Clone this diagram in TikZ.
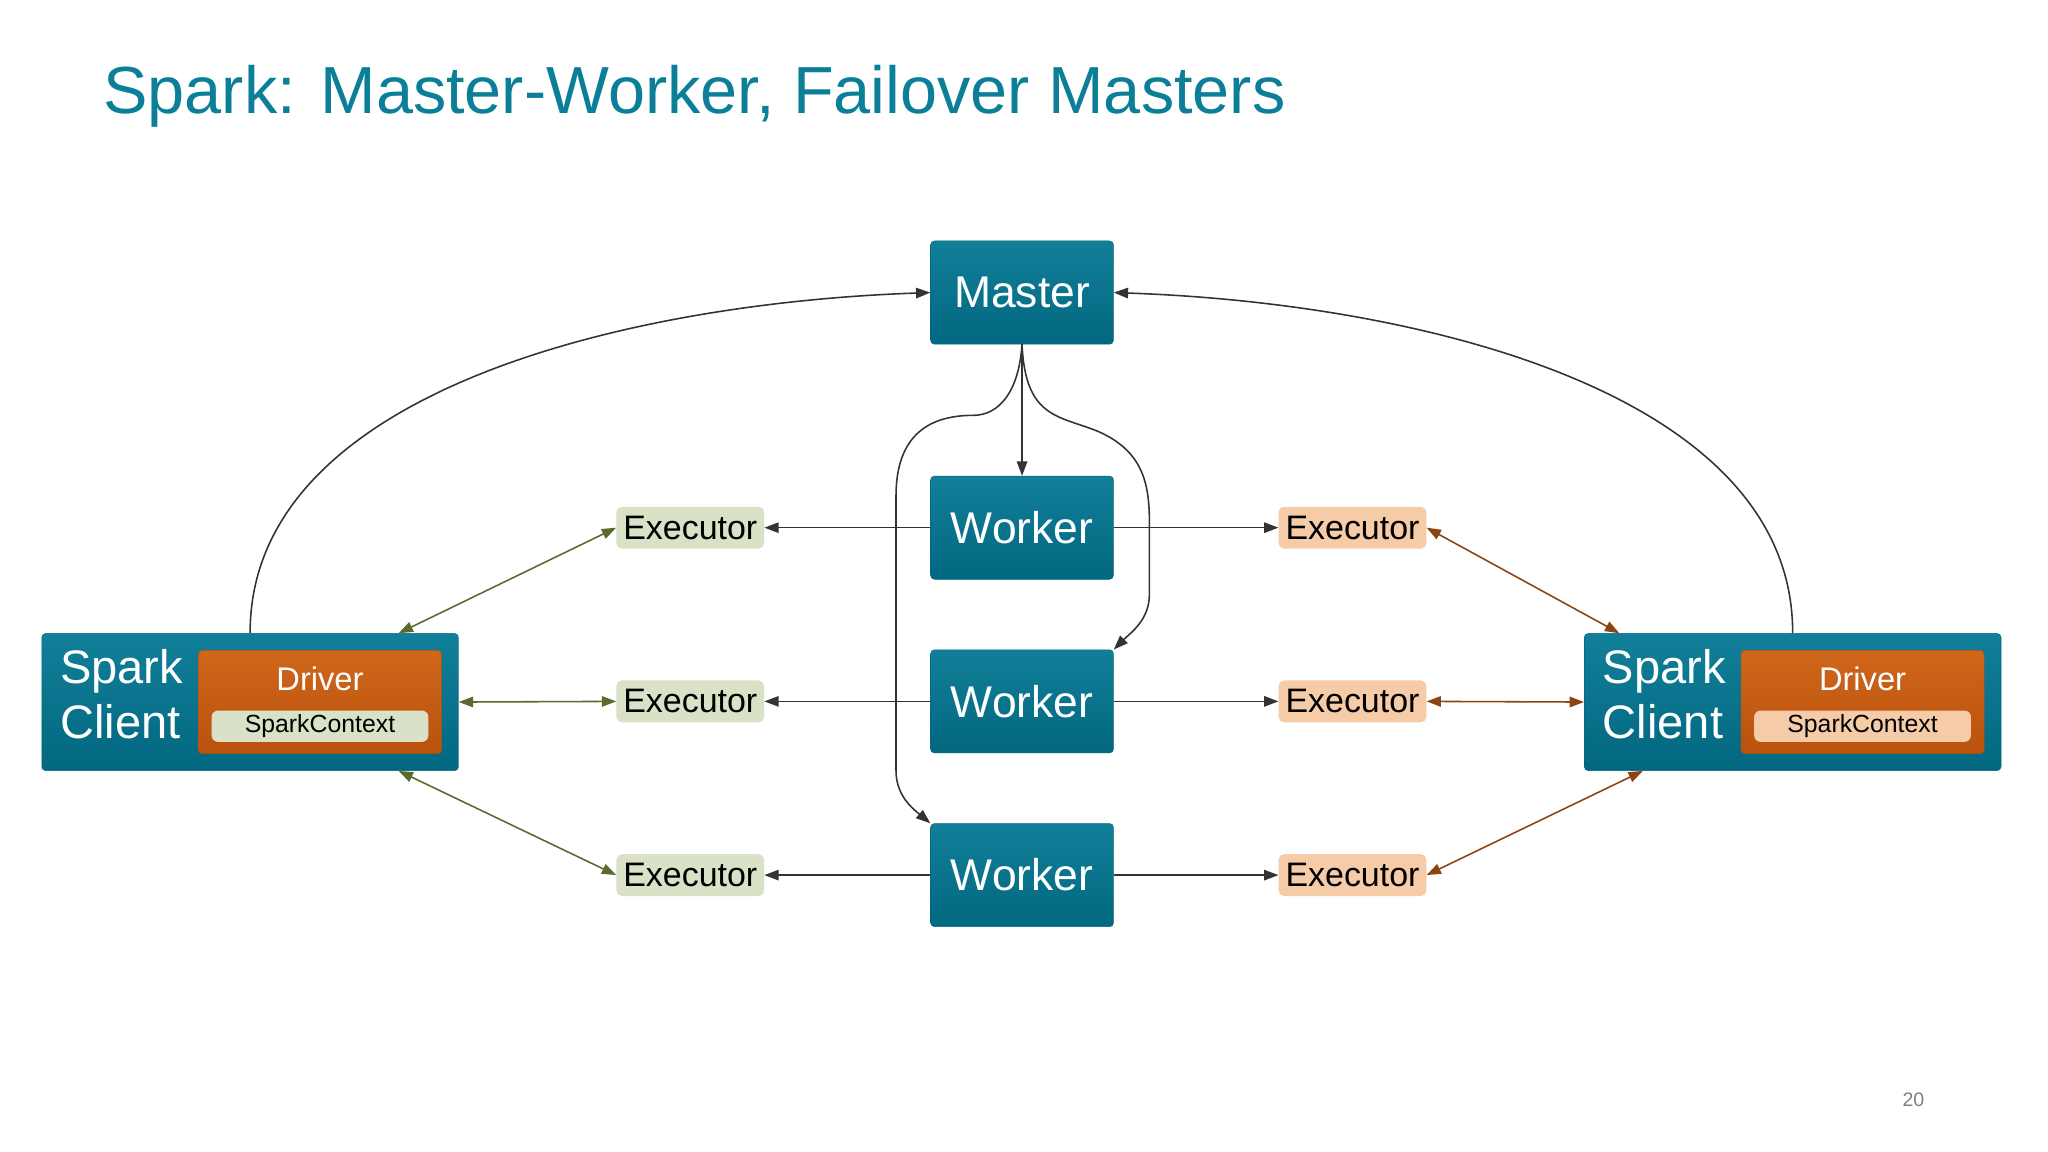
\documentclass[tikz,border=0pt]{standalone}
\usepackage{fontspec}
\setmainfont{Liberation Sans}
\usetikzlibrary{arrows.meta,calc}
\definecolor{teal1}{HTML}{117F99}
\definecolor{teal2}{HTML}{036780}
\definecolor{titlec}{HTML}{0A7F97}
\definecolor{drv1}{HTML}{D0661A}
\definecolor{drv2}{HTML}{B8520E}
\definecolor{lex}{HTML}{D9E1C6}
\definecolor{rex}{HTML}{F6CBA8}
\definecolor{lar}{HTML}{5A6B2E}
\definecolor{rar}{HTML}{8B4513}
\definecolor{gar}{HTML}{333333}
\begin{document}
\begin{tikzpicture}[x=1pt,y=-1pt,
 box/.style={rounded corners=3pt,top color=teal1,bottom color=teal2,draw=teal2,text=white,
   minimum width=140pt,minimum height=79pt,font=\fontsize{34}{36}\selectfont,inner sep=0pt},
 cli/.style={rounded corners=3pt,top color=teal1,bottom color=teal2,draw=teal2,
   minimum width=319pt,minimum height=105pt,inner sep=0pt},
 drv/.style={rounded corners=3pt,top color=drv1,bottom color=drv2,draw=drv2,
   minimum width=186pt,minimum height=79pt,inner sep=0pt},
 pill/.style={rounded corners=5pt,minimum width=166pt,minimum height=24pt,inner sep=0pt,font=\fontsize{19}{20}\selectfont},
 exe/.style={rounded corners=4pt,minimum width=113pt,minimum height=32pt,inner sep=0pt,font=\fontsize{26}{28}\selectfont},
 ga/.style={draw=gar,line width=1.2pt,-{Triangle[length=11pt,width=8pt]}},
 la/.style={draw=lar,line width=1.2pt,{Triangle[length=11pt,width=8pt]}-{Triangle[length=11pt,width=8pt]}},
 ra/.style={draw=rar,line width=1.2pt,{Triangle[length=11pt,width=8pt]}-{Triangle[length=11pt,width=8pt]}}]
\useasboundingbox[fill=white] (0,0) rectangle (1568,882);
\node[anchor=base west,text=titlec,font=\fontsize{51}{54}\selectfont,inner sep=0pt] (title) at (79,87) {Spark: Master-Worker, Failover Masters};
\node[text=gray,font=\fontsize{15}{16}\selectfont] (pg) at (1465,842) {20};

\node[box] (m) at (782.5,224) {Master};
\node[box] (w1) at (782.5,404) {Worker};
\node[box] (w2) at (782.5,537) {Worker};
\node[box] (w3) at (782.5,670) {Worker};

\node[cli] (lc) at (191.5,537.5) {};
\node[anchor=north west,text=white,align=left,font=\fontsize{36}{42}\selectfont,inner sep=0pt] (lct) at (46,497) {Spark\\Client};
\node[drv] (ld) at (245,537.5) {};
\node[text=white,font=\fontsize{25}{26}\selectfont] (ldt) at (245,520) {Driver};
\node[pill,fill=lex] (lsc) at (245,556) {SparkContext};

\node[cli] (rc) at (1372.5,537.5) {};
\node[anchor=north west,text=white,align=left,font=\fontsize{36}{42}\selectfont,inner sep=0pt] (rct) at (1227,497) {Spark\\Client};
\node[drv] (rd) at (1426,537.5) {};
\node[text=white,font=\fontsize{25}{26}\selectfont] (rdt) at (1426,520) {Driver};
\node[pill,fill=rex] (rsc) at (1426,556) {SparkContext};

\node[exe,fill=lex] (le1) at (528.5,404) {Executor};
\node[exe,fill=lex] (le2) at (528.5,537) {Executor};
\node[exe,fill=lex] (le3) at (528.5,670) {Executor};
\node[exe,fill=rex] (re1) at (1035.5,404) {Executor};
\node[exe,fill=rex] (re2) at (1035.5,537) {Executor};
\node[exe,fill=rex] (re3) at (1035.5,670) {Executor};

\draw[ga] (lc.north) .. controls (191,300) and (480,232) .. (m.west);
\draw[ga] (rc.north) .. controls (1373,300) and (1085,232) .. (m.east);
\draw[ga] (m.south) -- (w1.north);
\draw[ga] (m.south) .. controls (785,320) and (810,318) .. (840,330) .. controls (875,345) and (880,370) .. (880,400) -- (880,455) .. controls (880,475) and (865,485) .. (w2.north east);
\draw[ga] (m.south) .. controls (780,300) and (765,318) .. (745,318) .. controls (700,318) and (686,345) .. (686,380) -- (686,590) .. controls (686,610) and (700,620) .. (w3.north west);

\foreach \i in {1,2,3}{
 \draw[ga] (w\i.west) -- (le\i.east);
 \draw[ga] (w\i.east) -- (re\i.west);
}
\draw[la] ([xshift=-46pt]lc.north east) -- (le1.west);
\draw[la] (lc.east) -- (le2.west);
\draw[la] ([xshift=-46pt]lc.south east) -- (le3.west);
\draw[ra] (re1.east) -- ([xshift=27pt]rc.north west);
\draw[ra] (re2.east) -- (rc.west);
\draw[ra] (re3.east) -- ([xshift=45pt]rc.south west);
\end{tikzpicture}
\end{document}
